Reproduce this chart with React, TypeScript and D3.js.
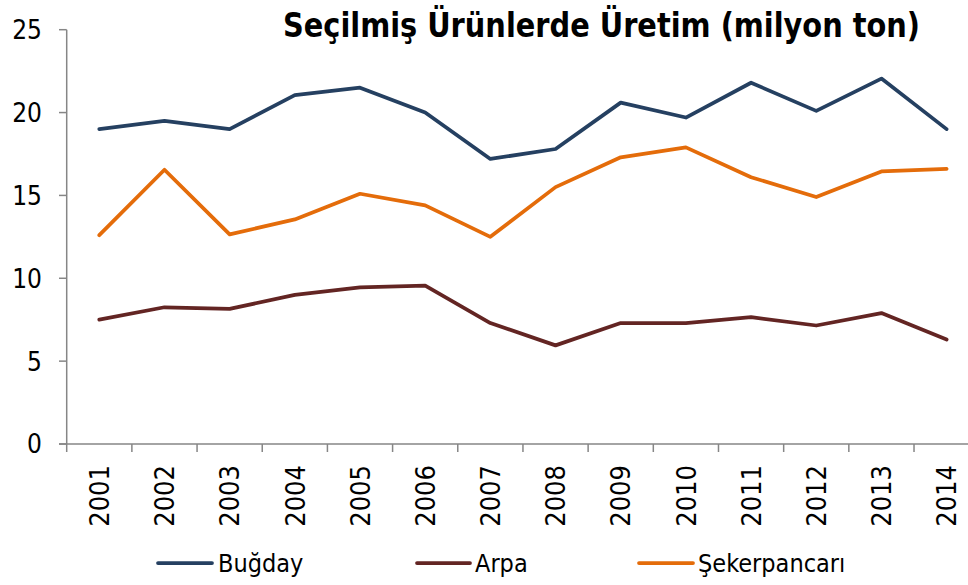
import React from "react";
import * as d3 from "d3";

const years = ["2001","2002","2003","2004","2005","2006","2007","2008","2009","2010","2011","2012","2013","2014"];
const bugday = [19.0, 19.5, 19.0, 21.05, 21.5, 20.0, 17.2, 17.8, 20.6, 19.7, 21.8, 20.1, 22.05, 19.0];
const arpa = [7.5, 8.25, 8.15, 9.0, 9.45, 9.55, 7.3, 5.95, 7.3, 7.3, 7.65, 7.15, 7.9, 6.3];
const sekerpancari = [12.6, 16.55, 12.65, 13.55, 15.1, 14.4, 12.5, 15.5, 17.3, 17.9, 16.1, 14.9, 16.45, 16.6];
const yTicks = [0, 5, 10, 15, 20, 25];
const title = "Seçilmiş Ürünlerde Üretim (milyon ton)";

const series = [
  { name: "Buğday", values: bugday, color: "#254061" },
  { name: "Arpa", values: arpa, color: "#632523" },
  { name: "Şekerpancarı", values: sekerpancari, color: "#E46C0A" },
];

const W = 968;
const H = 585;
const FONT = "'DejaVu Sans Condensed', 'DejaVu Sans', sans-serif";

export default function App() {
  const x = d3.scaleBand<string>().domain(years).range([66.7, 979.2]).paddingInner(0).paddingOuter(0);
  const y = d3.scaleLinear().domain([0, 25]).range([444, 29.7]);
  const cx = (d: string) => (x(d) as number) + x.bandwidth() / 2;
  const line = d3
    .line<number>()
    .x((_, i) => cx(years[i]))
    .y((v) => y(v));

  const axisColor = "#868686";
  const legendPos = [
    { x1: 158, x2: 212, tx: 218 },
    { x1: 417, x2: 470, tx: 475 },
    { x1: 639, x2: 693, tx: 698 },
  ];
  const legendY = 563;
  const boundaries = years.map((d) => x(d) as number);

  return (
    <svg
      width={W}
      height={H}
      style={{ position: "absolute", left: 0, top: 0, background: "#fff" }}
    >
      <rect x={0} y={0} width={W} height={H} fill="#fff" />
      {/* title */}
      <text
        x={601.5}
        y={37}
        textAnchor="middle"
        fontFamily="'DejaVu Sans Condensed', 'Liberation Sans Narrow', sans-serif"
        fontWeight="bold"
        fontSize={33}
        textLength={637}
        lengthAdjust="spacingAndGlyphs"
        fill="#000"
      >
        {title}
      </text>

      {/* y axis */}
      <line x1={66.7} x2={66.7} y1={y(25)} y2={y(0)} stroke={axisColor} strokeWidth={1.5} />
      {yTicks.map((t) => (
        <g key={t}>
          <line x1={59} x2={66.7} y1={y(t)} y2={y(t)} stroke={axisColor} strokeWidth={1.5} />
          <text
            x={42}
            y={y(t)}
            dy="0.36em"
            textAnchor="end"
            fontFamily={FONT}
            fontSize={26}
            fill="#000"
          >
            {t}
          </text>
        </g>
      ))}

      {/* x axis */}
      <line x1={59} x2={W} y1={y(0)} y2={y(0)} stroke={axisColor} strokeWidth={1.5} />
      {boundaries.map((b, i) => (
        <line key={i} x1={b} x2={b} y1={y(0)} y2={452} stroke={axisColor} strokeWidth={1.5} />
      ))}
      {years.map((d) => (
        <text
          key={d}
          transform={`translate(${cx(d)},465) rotate(-90)`}
          dy="0.36em"
          textAnchor="end"
          fontFamily={FONT}
          fontSize={27}
          fill="#000"
        >
          {d}
        </text>
      ))}

      {/* lines */}
      {series.map((s) => (
        <path
          key={s.name}
          d={line(s.values) as string}
          fill="none"
          stroke={s.color}
          strokeWidth={3.75}
          strokeLinejoin="round"
          strokeLinecap="round"
        />
      ))}

      {/* legend */}
      {series.map((s, i) => (
        <g key={s.name}>
          <line
            x1={legendPos[i].x1}
            x2={legendPos[i].x2}
            y1={legendY}
            y2={legendY}
            stroke={s.color}
            strokeWidth={3.75}
            strokeLinecap="round"
          />
          <text
            x={legendPos[i].tx}
            y={legendY}
            dy="0.36em"
            fontFamily={FONT}
            fontSize={25}
            fill="#000"
          >
            {s.name}
          </text>
        </g>
      ))}
    </svg>
  );
}
